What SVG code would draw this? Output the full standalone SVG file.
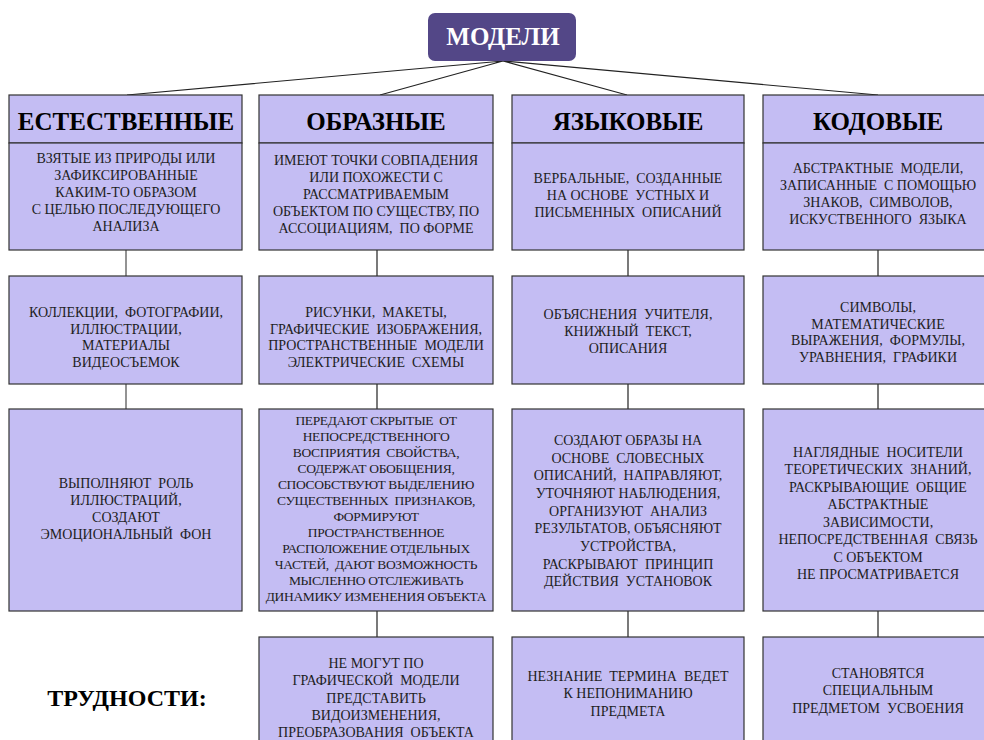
<svg xmlns="http://www.w3.org/2000/svg" width="984" height="740" viewBox="0 0 984 740">
<style>
.box{fill:#c4bdf3;stroke:#333;stroke-width:1.2}
.ln{stroke:#222;stroke-width:1.2;fill:none}
.ln2{stroke:#666;stroke-width:1.4;fill:none}
.h{font-family:"Liberation Serif","Times New Roman",serif;font-weight:bold;font-size:25px;fill:#000;text-anchor:middle}
.t{font-family:"Liberation Serif","Times New Roman",serif;font-size:14px;fill:#1e1e1e;text-anchor:middle;white-space:pre}
.c{font-size:13.5px;letter-spacing:-0.35px}
.title{font-family:"Liberation Serif","Times New Roman",serif;font-weight:bold;font-size:25px;fill:#fff;text-anchor:middle}
</style>
<rect width="984" height="740" fill="#fff"/>
<g id="connectors">
<path class="ln" d="M503 61 L127 95 M503 61 L380 95 M503 61 L627 95 M503 61 L878 95"/>
<path class="ln2" d="M126 250 V276 M126 384 V409"/>
<path class="ln" d="M377 250 V276 M377 384 V409 M377 611 V637"/>
<path class="ln" d="M628 250 V276 M628 384 V409 M628 611 V637"/>
<path class="ln" d="M878 250 V276 M878 384 V409 M878 611 V637"/>
</g>
<g id="root">
<rect x="428" y="13" width="148" height="48" rx="7" fill="#534787"/>
<text class="title" x="503" y="45">МОДЕЛИ</text>
</g>
<g id="col1-head">
<rect class="box" x="9" y="95" width="233" height="48"/>
<text class="h" x="126" y="130">ЕСТЕСТВЕННЫЕ</text>
<rect class="box" x="9" y="143" width="233" height="107"/>
<text class="t" x="126" y="163">ВЗЯТЫЕ ИЗ ПРИРОДЫ ИЛИ</text>
<text class="t" x="126" y="180">ЗАФИКСИРОВАННЫЕ</text>
<text class="t" x="126" y="197">КАКИМ-ТО ОБРАЗОМ</text>
<text class="t" x="126" y="214">С ЦЕЛЬЮ ПОСЛЕДУЮЩЕГО</text>
<text class="t" x="126" y="231">АНАЛИЗА</text>
</g>
<g id="col2-head">
<rect class="box" x="259" y="95" width="234" height="48"/>
<text class="h" x="376" y="130">ОБРАЗНЫЕ</text>
<rect class="box" x="259" y="143" width="234" height="107"/>
<text class="t" x="376" y="165">ИМЕЮТ ТОЧКИ СОВПАДЕНИЯ</text>
<text class="t" x="376" y="182">ИЛИ ПОХОЖЕСТИ С</text>
<text class="t" x="376" y="199">РАССМАТРИВАЕМЫМ</text>
<text class="t" x="376" y="216">ОБЪЕКТОМ ПО СУЩЕСТВУ, ПО</text>
<text class="t" x="376" y="233">АССОЦИАЦИЯМ,  ПО ФОРМЕ</text>
</g>
<g id="col3-head">
<rect class="box" x="512" y="95" width="232" height="48"/>
<text class="h" x="628" y="130">ЯЗЫКОВЫЕ</text>
<rect class="box" x="512" y="143" width="232" height="107"/>
<text class="t" x="628" y="183">ВЕРБАЛЬНЫЕ,  СОЗДАННЫЕ</text>
<text class="t" x="628" y="200">НА ОСНОВЕ  УСТНЫХ И</text>
<text class="t" x="628" y="217">ПИСЬМЕННЫХ  ОПИСАНИЙ</text>
</g>
<g id="col4-head">
<rect class="box" x="763" y="95" width="232" height="48"/>
<text class="h" x="878" y="130">КОДОВЫЕ</text>
<rect class="box" x="763" y="143" width="232" height="107"/>
<text class="t" x="878" y="173">АБСТРАКТНЫЕ  МОДЕЛИ,</text>
<text class="t" x="878" y="190">ЗАПИСАННЫЕ  С ПОМОЩЬЮ</text>
<text class="t" x="878" y="207">ЗНАКОВ,  СИМВОЛОВ,</text>
<text class="t" x="878" y="224">ИСКУСТВЕННОГО  ЯЗЫКА</text>
</g>
<g id="col1-examples">
<rect class="box" x="9" y="276" width="233" height="108"/>
<text class="t" x="126" y="317">КОЛЛЕКЦИИ,  ФОТОГРАФИИ,</text>
<text class="t" x="126" y="334">ИЛЛЮСТРАЦИИ,</text>
<text class="t" x="126" y="350">МАТЕРИАЛЫ</text>
<text class="t" x="126" y="367">ВИДЕОСЪЕМОК</text>
</g>
<g id="col2-examples">
<rect class="box" x="259" y="276" width="234" height="108"/>
<text class="t" x="376" y="317">РИСУНКИ,  МАКЕТЫ,</text>
<text class="t" x="376" y="334">ГРАФИЧЕСКИЕ  ИЗОБРАЖЕНИЯ,</text>
<text class="t" x="376" y="350">ПРОСТРАНСТВЕННЫЕ  МОДЕЛИ</text>
<text class="t" x="376" y="367">ЭЛЕКТРИЧЕСКИЕ  СХЕМЫ</text>
</g>
<g id="col3-examples">
<rect class="box" x="512" y="276" width="232" height="108"/>
<text class="t" x="628" y="319">ОБЪЯСНЕНИЯ  УЧИТЕЛЯ,</text>
<text class="t" x="628" y="336">КНИЖНЫЙ  ТЕКСТ,</text>
<text class="t" x="628" y="353">ОПИСАНИЯ</text>
</g>
<g id="col4-examples">
<rect class="box" x="763" y="276" width="232" height="108"/>
<text class="t" x="878" y="312">СИМВОЛЫ,</text>
<text class="t" x="878" y="329">МАТЕМАТИЧЕСКИЕ</text>
<text class="t" x="878" y="345">ВЫРАЖЕНИЯ,  ФОРМУЛЫ,</text>
<text class="t" x="878" y="362">УРАВНЕНИЯ,  ГРАФИКИ</text>
</g>
<g id="col1-role">
<rect class="box" x="9" y="409" width="233" height="202"/>
<text class="t" x="126" y="488">ВЫПОЛНЯЮТ  РОЛЬ</text>
<text class="t" x="126" y="505">ИЛЛЮСТРАЦИЙ,</text>
<text class="t" x="126" y="522">СОЗДАЮТ</text>
<text class="t" x="126" y="539">ЭМОЦИОНАЛЬНЫЙ  ФОН</text>
</g>
<g id="col2-role">
<rect class="box" x="259" y="409" width="234" height="202"/>
<text class="t c" x="376" y="425">ПЕРЕДАЮТ СКРЫТЫЕ  ОТ</text>
<text class="t c" x="376" y="441">НЕПОСРЕДСТВЕННОГО</text>
<text class="t c" x="376" y="457">ВОСПРИЯТИЯ  СВОЙСТВА,</text>
<text class="t c" x="376" y="473">СОДЕРЖАТ ОБОБЩЕНИЯ,</text>
<text class="t c" x="376" y="489">СПОСОБСТВУЮТ ВЫДЕЛЕНИЮ</text>
<text class="t c" x="376" y="505">СУЩЕСТВЕННЫХ  ПРИЗНАКОВ,</text>
<text class="t c" x="376" y="521">ФОРМИРУЮТ</text>
<text class="t c" x="376" y="537">ПРОСТРАНСТВЕННОЕ</text>
<text class="t c" x="376" y="553">РАСПОЛОЖЕНИЕ ОТДЕЛЬНЫХ</text>
<text class="t c" x="376" y="569">ЧАСТЕЙ,  ДАЮТ ВОЗМОЖНОСТЬ</text>
<text class="t c" x="376" y="585">МЫСЛЕННО ОТСЛЕЖИВАТЬ</text>
<text class="t c" x="376" y="601">ДИНАМИКУ ИЗМЕНЕНИЯ ОБЪЕКТА</text>
</g>
<g id="col3-role">
<rect class="box" x="512" y="409" width="232" height="202"/>
<text class="t" x="628" y="445">СОЗДАЮТ ОБРАЗЫ НА</text>
<text class="t" x="628" y="463">ОСНОВЕ  СЛОВЕСНЫХ</text>
<text class="t" x="628" y="480">ОПИСАНИЙ,  НАПРАВЛЯЮТ,</text>
<text class="t" x="628" y="498">УТОЧНЯЮТ НАБЛЮДЕНИЯ,</text>
<text class="t" x="628" y="516">ОРГАНИЗУЮТ  АНАЛИЗ</text>
<text class="t" x="628" y="533">РЕЗУЛЬТАТОВ, ОБЪЯСНЯЮТ</text>
<text class="t" x="628" y="551">УСТРОЙСТВА,</text>
<text class="t" x="628" y="569">РАСКРЫВАЮТ  ПРИНЦИП</text>
<text class="t" x="628" y="586">ДЕЙСТВИЯ  УСТАНОВОК</text>
</g>
<g id="col4-role">
<rect class="box" x="763" y="409" width="232" height="202"/>
<text class="t" x="878" y="457">НАГЛЯДНЫЕ  НОСИТЕЛИ</text>
<text class="t" x="878" y="474">ТЕОРЕТИЧЕСКИХ  ЗНАНИЙ,</text>
<text class="t" x="878" y="492">РАСКРЫВАЮЩИЕ  ОБЩИЕ</text>
<text class="t" x="878" y="509">АБСТРАКТНЫЕ</text>
<text class="t" x="878" y="527">ЗАВИСИМОСТИ,</text>
<text class="t" x="878" y="544">НЕПОСРЕДСТВЕННАЯ  СВЯЗЬ</text>
<text class="t" x="878" y="562">С ОБЪЕКТОМ</text>
<text class="t" x="878" y="579">НЕ ПРОСМАТРИВАЕТСЯ</text>
</g>
<g id="difficulties-label">
<text class="h" x="127" y="706" style="font-size:24px">ТРУДНОСТИ:</text>
</g>
<g id="col2-difficulty">
<rect class="box" x="259" y="637" width="234" height="120"/>
<text class="t" x="376" y="668">НЕ МОГУТ ПО</text>
<text class="t" x="376" y="685">ГРАФИЧЕСКОЙ  МОДЕЛИ</text>
<text class="t" x="376" y="703">ПРЕДСТАВИТЬ</text>
<text class="t" x="376" y="720">ВИДОИЗМЕНЕНИЯ,</text>
<text class="t" x="376" y="737">ПРЕОБРАЗОВАНИЯ  ОБЪЕКТА</text>
</g>
<g id="col3-difficulty">
<rect class="box" x="512" y="637" width="232" height="120"/>
<text class="t" x="628" y="681">НЕЗНАНИЕ  ТЕРМИНА  ВЕДЕТ</text>
<text class="t" x="628" y="698">К НЕПОНИМАНИЮ</text>
<text class="t" x="628" y="716">ПРЕДМЕТА</text>
</g>
<g id="col4-difficulty">
<rect class="box" x="763" y="637" width="232" height="120"/>
<text class="t" x="878" y="678">СТАНОВЯТСЯ</text>
<text class="t" x="878" y="695">СПЕЦИАЛЬНЫМ</text>
<text class="t" x="878" y="713">ПРЕДМЕТОМ  УСВОЕНИЯ</text>
</g>
</svg>
